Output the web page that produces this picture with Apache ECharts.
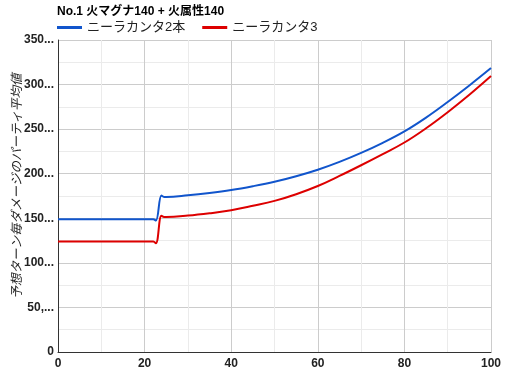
<!DOCTYPE html>
<html><head><meta charset="utf-8">
<script src="https://cdn.jsdelivr.net/npm/echarts@6/dist/echarts.min.js"></script>
<style>html,body{margin:0;padding:0;background:#fff}#c{width:512px;height:373px}</style>
</head><body><div id="c"></div>
<script>
const titleText = 'No.1 火マグナ140 + 火属性140';
const yAxisTitle = '予想ターン毎ダメージのパーティ平均値';
const seriesNames = ['ニーラカンタ2本', 'ニーラカンタ3'];
const xValues = [0, 5, 10, 15, 20, 22, 22.6, 23.9, 24.5, 25, 30, 35, 40, 45, 50, 55, 60, 65, 70, 75, 80, 85, 90, 95, 100];
const blueValues = [149, 149, 149, 149, 149, 149, 147.5, 175.5, 174, 174, 175.8, 178.4, 181.7, 186, 191, 197.2, 204.5, 213.3, 223.4, 234.7, 247.5, 263, 280.5, 299, 318.5];
const redValues = [124, 124, 124, 124, 124, 124, 122, 152.8, 151.5, 151.5, 153, 155.6, 159, 164, 169.5, 177, 186.2, 197.5, 209.5, 222, 235, 251, 269, 288.5, 309.5];
const yTickLabels = {0: '0', 50: '50,...', 100: '100...', 150: '150...', 200: '200...', 250: '250...', 300: '300...', 350: '350...'};
const xTickLabels = {0: '0', 20: '20', 40: '40', 60: '60', 80: '80', 100: '100'};

const chart = echarts.init(document.getElementById('c'), null, {renderer: 'canvas'});
const font = 'Arial, "Liberation Sans", "Noto Sans CJK JP", sans-serif';
chart.setOption({
  animation: false,
  textStyle: {fontFamily: font},
  title: {text: titleText, left: 52, top: 1, textStyle: {fontSize: 12, fontWeight: 'bold', color: '#000', fontFamily: font}},
  legend: {
    left: 52, top: 16, itemWidth: 25, itemHeight: 3, itemGap: 17,
    icon: 'rect',
    textStyle: {fontSize: 13, color: '#222', fontFamily: font},
    data: seriesNames
  },
  grid: {left: 58, right: 21, top: 40, bottom: 21, containLabel: false, outerBoundsMode: 'none'},
  xAxis: {
    type: 'value', min: 0, max: 100, interval: 20,
    axisLine: {show: true, lineStyle: {color: '#333', width: 1}},
    axisTick: {show: false},
    axisLabel: {color: '#222', fontSize: 12, fontWeight: 'bold', margin: 6, formatter: v => xTickLabels[v] ?? ''},
    splitLine: {show: true, lineStyle: {color: '#cccccc'}},
    minorTick: {show: false, splitNumber: 2},
    minorSplitLine: {show: true, lineStyle: {color: '#ebebeb'}}
  },
  yAxis: {
    type: 'value', min: 0, max: 350, interval: 50,
    name: yAxisTitle, nameLocation: 'middle', nameGap: 34, nameMoveOverlap: false,
    nameTextStyle: {fontSize: 12.5, fontStyle: 'italic', color: '#222', fontFamily: font, padding: [0, 0, 0, 20]},
    axisLine: {show: true, lineStyle: {color: '#333', width: 1}},
    axisTick: {show: false},
    axisLabel: {color: '#222', fontSize: 12, fontWeight: 'bold', margin: 4, formatter: v => yTickLabels[v] ?? ''},
    splitLine: {show: true, lineStyle: {color: '#cccccc'}},
    minorTick: {show: false, splitNumber: 2},
    minorSplitLine: {show: true, lineStyle: {color: '#ebebeb'}}
  },
  series: [
    {name: seriesNames[0], type: 'line', smooth: 0.4, showSymbol: false, color: '#1155cc',
     lineStyle: {width: 2}, data: xValues.map((x, i) => [x, blueValues[i]])},
    {name: seriesNames[1], type: 'line', smooth: 0.4, showSymbol: false, color: '#dd0000',
     lineStyle: {width: 2}, data: xValues.map((x, i) => [x, redValues[i]])}
  ]
});
</script></body></html>
